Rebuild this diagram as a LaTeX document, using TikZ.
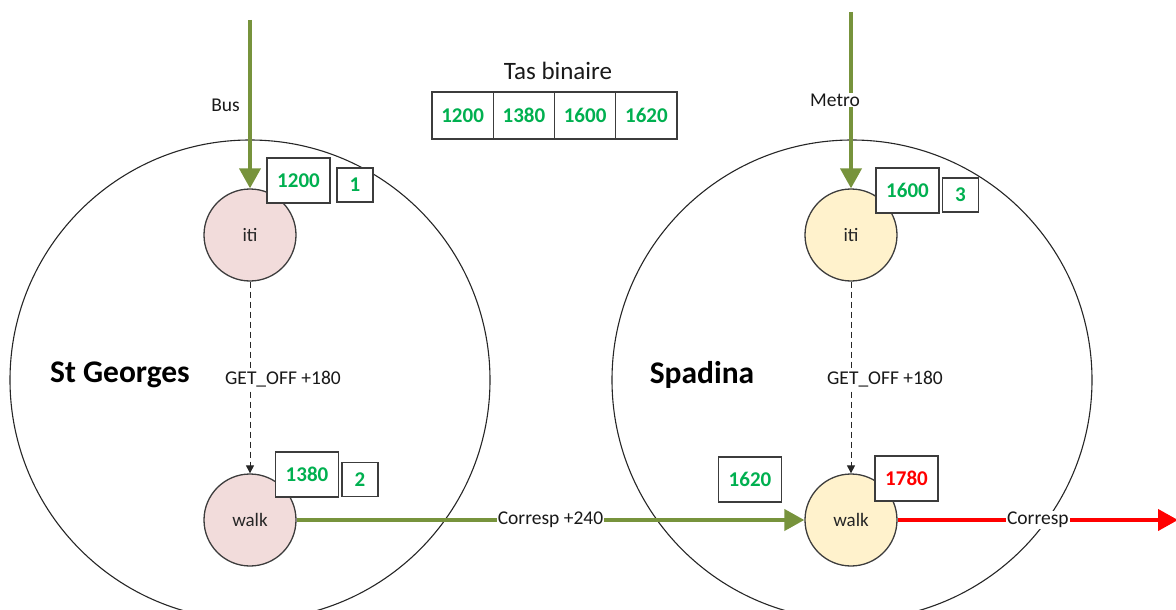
\documentclass[tikz,border=0pt]{standalone}
\usepackage{fontspec}
\setmainfont{Carlito}
\usetikzlibrary{arrows.meta}
\definecolor{olivegreen}{RGB}{119,147,60}
\definecolor{numgreen}{RGB}{0,176,80}
\definecolor{pinkfill}{RGB}{242,220,219}
\definecolor{yellowfill}{RGB}{255,242,204}
\definecolor{edgegray}{RGB}{60,60,60}
\tikzset{
  station/.style={circle, draw=black!85, line width=1.1pt, minimum size=480pt, inner sep=0pt},
  stopnode/.style={circle, draw=edgegray, line width=1.3pt, minimum size=92pt, inner sep=0pt, text=black!85, font=\fontsize{19}{21}\selectfont},
  valbox/.style={draw=edgegray, line width=1.3pt, fill=white, inner sep=0pt, minimum width=63pt, minimum height=45pt, text=numgreen, font=\bfseries\fontsize{21}{23}\selectfont},
  idbox/.style={valbox, minimum width=36pt, minimum height=34pt},
  heapcell/.style={valbox, minimum width=61.25pt, minimum height=47pt},
  lbl/.style={font=\fontsize{19.5}{21}\selectfont, text=black!90, fill=white, inner sep=1pt},
  stationname/.style={font=\bfseries\fontsize{31.5}{34}\selectfont, text=black},
  bigarrow/.style={draw=olivegreen, line width=4pt, -{Triangle[length=20pt,width=21pt]}},
  redarrow/.style={draw=red, line width=4pt, -{Triangle[length=20pt,width=21pt]}},
  dasharrow/.style={draw=black!85, line width=1pt, dash pattern=on 6pt off 4pt, -{Triangle[length=8pt,width=8pt]}}
}
\begin{document}
\begin{tikzpicture}[x=1pt,y=-1pt]
\useasboundingbox (0,0) rectangle (1176,610);
\clip (0,0) rectangle (1176,610);
% stations
\node[station] (sg) at (250,380) {};
\node[station] (sp) at (852,380) {};
\node[stationname] (sgname) at (120,375) {St Georges};
\node[stationname] (spname) at (702,375) {Spadina};
% stops
\node[stopnode, fill=pinkfill] (itiL) at (250,235) {iti};
\node[stopnode, fill=pinkfill] (walkL) at (250,520) {walk};
\node[stopnode, fill=yellowfill] (itiR) at (851,235) {iti};
\node[stopnode, fill=yellowfill] (walkR) at (851,520) {walk};
% incoming arrows
\coordinate (bustop) at (250,20);
\coordinate (metrotop) at (851,12);
\draw[bigarrow] (bustop) -- (itiL.north);
\draw[bigarrow] (metrotop) -- (itiR.north);
\node[lbl, fill=none, anchor=east] (bus) at (241,105) {Bus};
\node[lbl] (metro) at (835,100) {Metro};
% dashed arrows
\draw[dasharrow] (itiL) -- (walkL);
\node[lbl] (getoffL) at (283,379) {GET\_OFF +180};
\draw[dasharrow] (itiR) -- (walkR);
\node[lbl] (getoffR) at (885,379) {GET\_OFF +180};
% transfer arrows
\draw[bigarrow] (walkL) -- node[lbl] (corrL) {Corresp +240} (walkR);
\coordinate (redend) at (1178,520);
\draw[redarrow] (walkR) -- node[lbl] (corrR) {Corresp} (redend);
% value boxes
\node[valbox] (v1200) at (298.5,180.5) {1200};
\node[idbox] (i1) at (355,185) {1};
\node[valbox] (v1380) at (307,474.5) {1380};
\node[idbox] (i2) at (360,479.5) {2};
\node[valbox] (v1600) at (907.5,190.5) {1600};
\node[idbox] (i3) at (960.5,195) {3};
\node[valbox] (v1620) at (750,479.5) {1620};
\node[valbox, text=red] (v1780) at (906.5,478.5) {1780};
% binary heap
\node[font=\fontsize{25}{27}\selectfont, text=black!90] (tas) at (558,71) {Tas binaire};
\node[heapcell] (h1) at (462.6,115.5) {1200};
\node[heapcell] (h2) at (523.9,115.5) {1380};
\node[heapcell] (h3) at (585.1,115.5) {1600};
\node[heapcell] (h4) at (646.4,115.5) {1620};
\end{tikzpicture}
\end{document}
